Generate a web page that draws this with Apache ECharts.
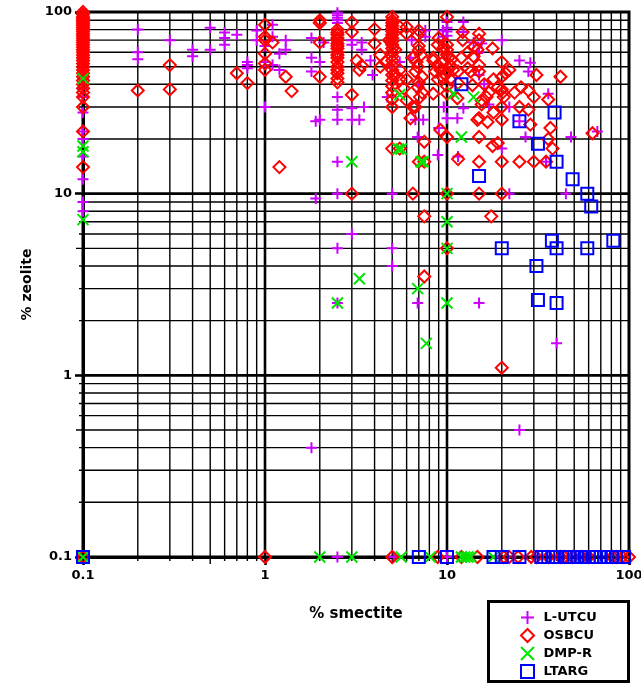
<!DOCTYPE html>
<html>
<head>
<meta charset="utf-8">
<script src="https://cdn.jsdelivr.net/npm/echarts@6/dist/echarts.min.js"></script>
<style>
  html, body { margin: 0; padding: 0; background: #fff; }
  #chart { width: 641px; height: 685px; }
</style>
</head>
<body>
<div id="chart"></div>
<script>
// Axis ranges and tick labels (log10 axes, one decade per major tick)
const axisMin = 0.1;
const axisMax = 100;
const xTickLabels = ['0.1', '1', '10', '100'];
const yTickLabels = ['0.1', '1', '10', '100'];

const seriesNames = ['L-UTCU', 'OSBCU', 'DMP-R', 'LTARG'];

// [% smectite, % zeolite]; 0.1 on either axis stands for "not detected"
const lutcuPoints = [
  [0.1, 95], [0.1, 88], [0.1, 82], [0.1, 76], [0.1, 70], [0.1, 64], [0.1, 58], [0.1, 52], [0.1, 47],
  [0.1, 38], [0.1, 34], [0.1, 28], [0.1, 22], [0.1, 20], [0.1, 16], [0.1, 12], [0.1, 9], [0.1, 8],
  [0.2, 80], [0.2, 60], [0.2, 55], [0.3, 70], [0.4, 62], [0.4, 57], [0.5, 82], [0.5, 62],
  [0.6, 77], [0.6, 72], [0.6, 66], [0.7, 75], [0.8, 53], [0.8, 51], [0.8, 49], [0.9, 79], [0.9, 70],
  [1, 30], [1, 53], [1, 65], [1.1, 85], [1.1, 73], [1.1, 51], [1.2, 59], [1.3, 70], [1.3, 62], [1.2, 48],
  [1.8, 72], [1.8, 56], [1.8, 47], [1.9, 25], [1.9, 9.4], [1.8, 0.4],
  [2, 53], [2, 25.5], [2.1, 68], [2.5, 99], [2.5, 96], [2.5, 93], [2.5, 90], [2.5, 87],
  [2.5, 34], [2.5, 29], [2.5, 25.5], [2.5, 15], [2.5, 10], [2.5, 5], [2.5, 2.5], [2.5, 0.1],
  [3, 70], [3, 66], [3, 29.5], [3, 25.5], [3.3, 25.5], [3.5, 30], [3.4, 68], [3.4, 62], [3.8, 54], [3.9, 45], [3, 6],
  [4.9, 68], [5, 50], [4.7, 34], [5.5, 53], [5, 10], [5, 5], [5, 4], [5.1, 0.1],
  [6.4, 70], [6.3, 56], [7, 39.5], [6.7, 25.5], [7.4, 25.5], [7.6, 79], [7.6, 73], [9.5, 79], [9.5, 73],
  [9.6, 30], [9, 23], [6.9, 20.5], [8.9, 16.3], [6.9, 2.5],
  [10, 88], [10, 82], [10, 78], [10, 74], [10, 26], [11.4, 26], [12.3, 88], [12.3, 77.5], [11.5, 16], [10, 0.1],
  [12.3, 29.5], [15.5, 67], [14.7, 59.5], [14, 68], [15, 60], [15, 45], [16, 40], [17, 31],
  [20, 70], [20, 17.7], [22, 10], [22, 30], [25, 54], [28.7, 52.5], [28, 47], [27, 20.5], [25, 25],
  [36, 35.5], [35, 15], [48, 20.5], [45, 10], [67, 22], [15, 2.5], [40, 1.5], [25, 0.5]
];

const osbcuPoints = [
  [0.1, 100], [0.1, 97], [0.1, 94], [0.1, 92], [0.1, 90], [0.1, 88], [0.1, 86], [0.1, 84], [0.1, 82],
  [0.1, 80], [0.1, 78], [0.1, 76], [0.1, 74], [0.1, 72], [0.1, 70], [0.1, 68], [0.1, 66], [0.1, 64],
  [0.1, 62], [0.1, 60], [0.1, 58], [0.1, 56], [0.1, 54], [0.1, 52], [0.1, 50], [0.1, 48], [0.1, 46],
  [0.1, 44], [0.1, 42], [0.1, 40], [0.1, 38], [0.1, 36], [0.1, 34], [0.1, 30], [0.1, 22], [0.1, 14], [0.1, 0.1],
  [0.2, 37], [0.3, 51], [0.3, 37.5], [0.7, 46], [0.8, 40.6],
  [1, 85], [1, 73], [1, 70], [1, 59], [1, 52], [1, 48], [1, 0.1], [1.1, 68], [1.2, 14], [1.3, 44], [1.4, 36.7],
  [2, 90], [2, 87], [2, 68], [2, 44],
  [2.5, 80], [2.5, 77], [2.5, 75], [2.5, 72], [2.5, 70], [2.5, 67], [2.5, 65], [2.5, 63], [2.5, 60],
  [2.5, 58], [2.5, 56], [2.5, 53], [2.5, 50], [2.5, 48], [2.5, 46], [2.5, 43], [2.5, 41],
  [3, 88], [3, 77.5], [3, 35], [3, 10], [3.2, 54], [3.4, 50.7], [3.3, 48],
  [4, 80.5], [4, 67], [4.3, 58], [4.3, 50], [4.6, 53],
  [5, 94], [5, 90], [5, 87], [5, 84], [5, 81], [5, 78], [5, 75], [5, 72], [5, 69], [5, 66], [5, 63],
  [5, 60], [5, 57], [5, 54], [5, 51], [5, 48], [5, 45], [5, 42], [5, 39], [5, 36], [5, 33], [5, 30],
  [4.8, 70], [5.2, 62], [5.2, 45], [5, 17.7], [5.5, 17.7], [5, 0.1],
  [5.5, 82.6], [6, 82.6], [6, 76], [5.5, 48], [5.5, 42.6], [6, 42.6], [6, 32.6], [6.5, 30], [6.3, 26], [5.8, 38],
  [6.9, 74.6], [7, 79], [6.5, 56], [7, 61.7], [6.9, 50], [6.7, 47], [7.3, 44], [7, 41], [6.9, 38.5],
  [7.1, 34], [6.7, 30], [7, 65], [7.2, 58], [6.8, 53], [7.3, 36],
  [7.5, 19.3], [7, 15], [7.5, 15], [6.5, 10], [7.5, 7.5], [7.5, 3.5],
  [8.4, 56], [8.9, 51], [8.9, 42.6], [8.4, 35.5], [9, 72], [8.9, 66], [8.4, 54], [8.6, 47], [9.2, 22.4], [8.9, 0.1],
  [10, 94], [9.5, 63], [10, 62], [10.2, 56], [9.5, 53], [10.4, 51], [9.2, 48], [10, 47], [10.8, 48],
  [9.5, 43.6], [10.4, 42.6], [10, 39], [10, 35.5], [10, 58], [10, 66], [9.8, 45], [10.6, 55],
  [10, 20.5], [10, 10], [10, 5],
  [12.2, 77.5], [12.2, 70], [15, 76], [15, 70], [11.5, 47], [11.5, 40.6], [11.4, 33.5], [12, 56],
  [13, 49], [13.5, 47], [14, 64], [13.8, 39.5], [15, 51], [15, 47], [15.5, 32.6], [15.5, 31],
  [15, 26], [14.7, 25.5], [16.7, 24.8], [17.8, 63], [18, 42.6], [19, 38.5], [13, 60], [14, 57],
  [14.7, 62], [16, 40], [17, 36], [18, 28], [16.5, 34],
  [20, 53], [20, 44], [21, 46], [22, 48], [20, 37.5], [20.2, 36], [20.5, 34], [20, 30], [20, 25.5],
  [23.5, 36], [25.5, 38.5], [28, 37], [25, 30], [28, 29], [28.7, 24], [31, 45], [30, 34],
  [36, 33], [37, 23], [36, 20], [38, 17.7], [42, 44], [63, 21.5],
  [25, 15], [30, 15], [35, 15], [20, 15], [15, 15], [11.5, 15.5], [20, 10], [15, 10],
  [17.8, 18.3], [19, 19], [15, 20.5], [17.5, 7.5], [20, 1.1],
  [12, 0.1], [14.7, 0.1], [20.5, 0.1], [22, 0.1], [24.6, 0.1], [29, 0.1], [31, 0.1], [36, 0.1],
  [42, 0.1], [44, 0.1], [49, 0.1], [55, 0.1], [60, 0.1], [81, 0.1], [85, 0.1], [92, 0.1], [100, 0.1]
];

const dmprPoints = [
  [0.1, 43], [0.1, 18.3], [0.1, 17], [0.1, 7.2], [0.1, 0.1],
  [2.5, 2.5], [3, 15], [3.3, 3.4], [5.5, 35], [5.4, 17.6], [5.6, 17.6], [7.4, 15], [7.2, 15],
  [10, 10], [10, 7], [10, 5], [10, 2.5], [6.9, 3], [7.7, 1.5], [10.9, 35.5], [14, 34], [12, 20.5],
  [2, 0.1], [3, 0.1], [5.6, 0.1], [8.1, 0.1], [12, 0.1], [12.5, 0.1], [13, 0.1], [13.5, 0.1], [18, 0.1]
];

const ltargPoints = [
  [12, 40], [25, 25], [39, 28], [31.6, 18.8], [40, 15], [15, 12.5], [49, 12], [59, 10], [62, 8.5],
  [20, 5], [37.7, 5.5], [40, 5], [59, 5], [82, 5.5], [31, 4], [31.6, 2.6], [40, 2.5],
  [0.1, 0.1], [7, 0.1], [10, 0.1], [18, 0.1], [20, 0.1], [25, 0.1], [33, 0.1], [34, 0.1], [36, 0.1],
  [38, 0.1], [40, 0.1], [45, 0.1], [47, 0.1], [50, 0.1], [52, 0.1], [55, 0.1], [57, 0.1], [60, 0.1],
  [63, 0.1], [66, 0.1], [70, 0.1], [73, 0.1], [76, 0.1], [80, 0.1], [85, 0.1], [94, 0.1]
];

// ---------- styling ----------
const FONT = 'DejaVu Sans';
const MAGENTA = '#cc00ff';
const RED = '#ff0000';
const GREEN = '#00e400';
const BLUE = '#0000ff';
const PLUS = 'path://M5 0L5 10M0 5L10 5';
const CROSS = 'path://M0 0L10 10M10 0L0 10';

// grid line positions: every 1..9 multiple inside each decade (the frame draws 0.1 and 100)
const gridValues = [];
[0.1, 1, 10].forEach(function (d) {
  for (let k = 1; k <= 9; k++) {
    const v = +(d * k).toPrecision(3);
    if (v > axisMin && v < axisMax) gridValues.push(v);
  }
});

function mantissa(v) {
  const e = Math.floor(Math.log10(v) + 1e-9);
  return Math.round(v / Math.pow(10, e));
}
function lineStyleFor(v) {
  const m = mantissa(v);
  return {
    width: m === 1 ? 2.6 : 1.4,
    ext: m === 1 ? 0 : (m === 5 ? 7 : 4)
  };
}

function renderVertical(params, api) {
  const v = api.value(0);
  const top = api.coord([v, axisMax]);
  const bottom = api.coord([v, axisMin]);
  const s = lineStyleFor(v);
  return {
    type: 'line',
    shape: { x1: top[0], y1: top[1], x2: bottom[0], y2: bottom[1] + s.ext },
    style: { stroke: '#000', lineWidth: s.width },
    silent: true
  };
}
function renderHorizontal(params, api) {
  const v = api.value(1);
  const left = api.coord([axisMin, v]);
  const right = api.coord([axisMax, v]);
  const s = lineStyleFor(v);
  return {
    type: 'line',
    shape: { x1: left[0] - s.ext, y1: left[1], x2: right[0], y2: right[1] },
    style: { stroke: '#000', lineWidth: s.width },
    silent: true
  };
}

function tickFormatter(labels) {
  return function (v) {
    const i = Math.round(Math.log10(v)) - Math.round(Math.log10(axisMin));
    return labels[i] !== undefined ? labels[i] : '';
  };
}

function logAxis(name, nameGap, nameSize, labels, labelMargin) {
  return {
    type: 'log',
    logBase: 10,
    min: axisMin,
    max: axisMax,
    name: name,
    nameLocation: 'middle',
    nameGap: nameGap,
    nameTextStyle: { fontFamily: FONT, fontWeight: 'bold', fontSize: nameSize, color: '#000' },
    axisLine: { show: true, onZero: false, lineStyle: { color: '#000', width: 3 } },
    axisTick: { show: true, inside: false, length: 8, lineStyle: { color: '#000', width: 2.6 } },
    minorTick: { show: false },
    axisLabel: {
      show: true, margin: labelMargin, fontFamily: FONT, fontWeight: 'bold', fontSize: 13,
      color: '#000', formatter: tickFormatter(labels), showMinLabel: true, showMaxLabel: true
    },
    splitLine: { show: false },
    minorSplitLine: { show: false }
  };
}

function scatterSeries(name, data, symbol, size, color) {
  return {
    type: 'scatter',
    name: name,
    data: data,
    symbol: symbol,
    symbolSize: size,
    itemStyle: { color: 'rgba(0,0,0,0)', borderColor: color, borderWidth: 2, opacity: 1 },
    emphasis: { disabled: true },
    silent: true,
    z: 3
  };
}

const chart = echarts.init(document.getElementById('chart'), null, { renderer: 'canvas' });
chart.setOption({
  animation: false,
  backgroundColor: '#fff',
  grid: {
    left: 83, top: 12, right: 12, bottom: 128,
    show: true, borderColor: '#000', borderWidth: 3, backgroundColor: 'transparent',
    containLabel: false, outerBoundsMode: 'none'
  },
  xAxis: logAxis('% smectite', 50, 15, xTickLabels, 12),
  yAxis: logAxis('% zeolite', 45, 14, yTickLabels, 11),
  legend: {
    orient: 'vertical',
    left: 520,
    top: 610,
    height: 120,
    padding: 0,
    itemWidth: 13,
    itemHeight: 13,
    itemGap: 3,
    selectedMode: false,
    formatter: function (n) { return ' ' + n; },
    textStyle: { fontFamily: FONT, fontWeight: 'bold', fontSize: 13, color: '#000' },
    data: [
      { name: seriesNames[0], icon: PLUS, itemStyle: { color: 'rgba(0,0,0,0)', borderColor: MAGENTA, borderWidth: 2 } },
      { name: seriesNames[1], icon: 'diamond', itemStyle: { color: 'rgba(0,0,0,0)', borderColor: RED, borderWidth: 2 } },
      { name: seriesNames[2], icon: CROSS, itemStyle: { color: 'rgba(0,0,0,0)', borderColor: GREEN, borderWidth: 2 } },
      { name: seriesNames[3], icon: 'rect', itemStyle: { color: 'rgba(0,0,0,0)', borderColor: BLUE, borderWidth: 2 } }
    ]
  },
  graphic: [{
    type: 'rect',
    shape: { x: 488.5, y: 601.5, width: 140, height: 80 },
    style: { fill: 'none', stroke: '#000', lineWidth: 3 },
    silent: true
  }],
  series: [
    {
      type: 'custom', name: 'vgrid', coordinateSystem: 'cartesian2d', clip: false, silent: true, z: 1,
      data: gridValues.map(function (v) { return [v, 1]; }),
      renderItem: renderVertical
    },
    {
      type: 'custom', name: 'hgrid', coordinateSystem: 'cartesian2d', clip: false, silent: true, z: 1,
      data: gridValues.map(function (v) { return [1, v]; }),
      renderItem: renderHorizontal
    },
    scatterSeries(seriesNames[0], lutcuPoints, PLUS, 11, MAGENTA),
    scatterSeries(seriesNames[1], osbcuPoints, 'diamond', 12, RED),
    scatterSeries(seriesNames[2], dmprPoints, CROSS, 11, GREEN),
    scatterSeries(seriesNames[3], ltargPoints, 'rect', 12, BLUE)
  ]
});
</script>
</body>
</html>
